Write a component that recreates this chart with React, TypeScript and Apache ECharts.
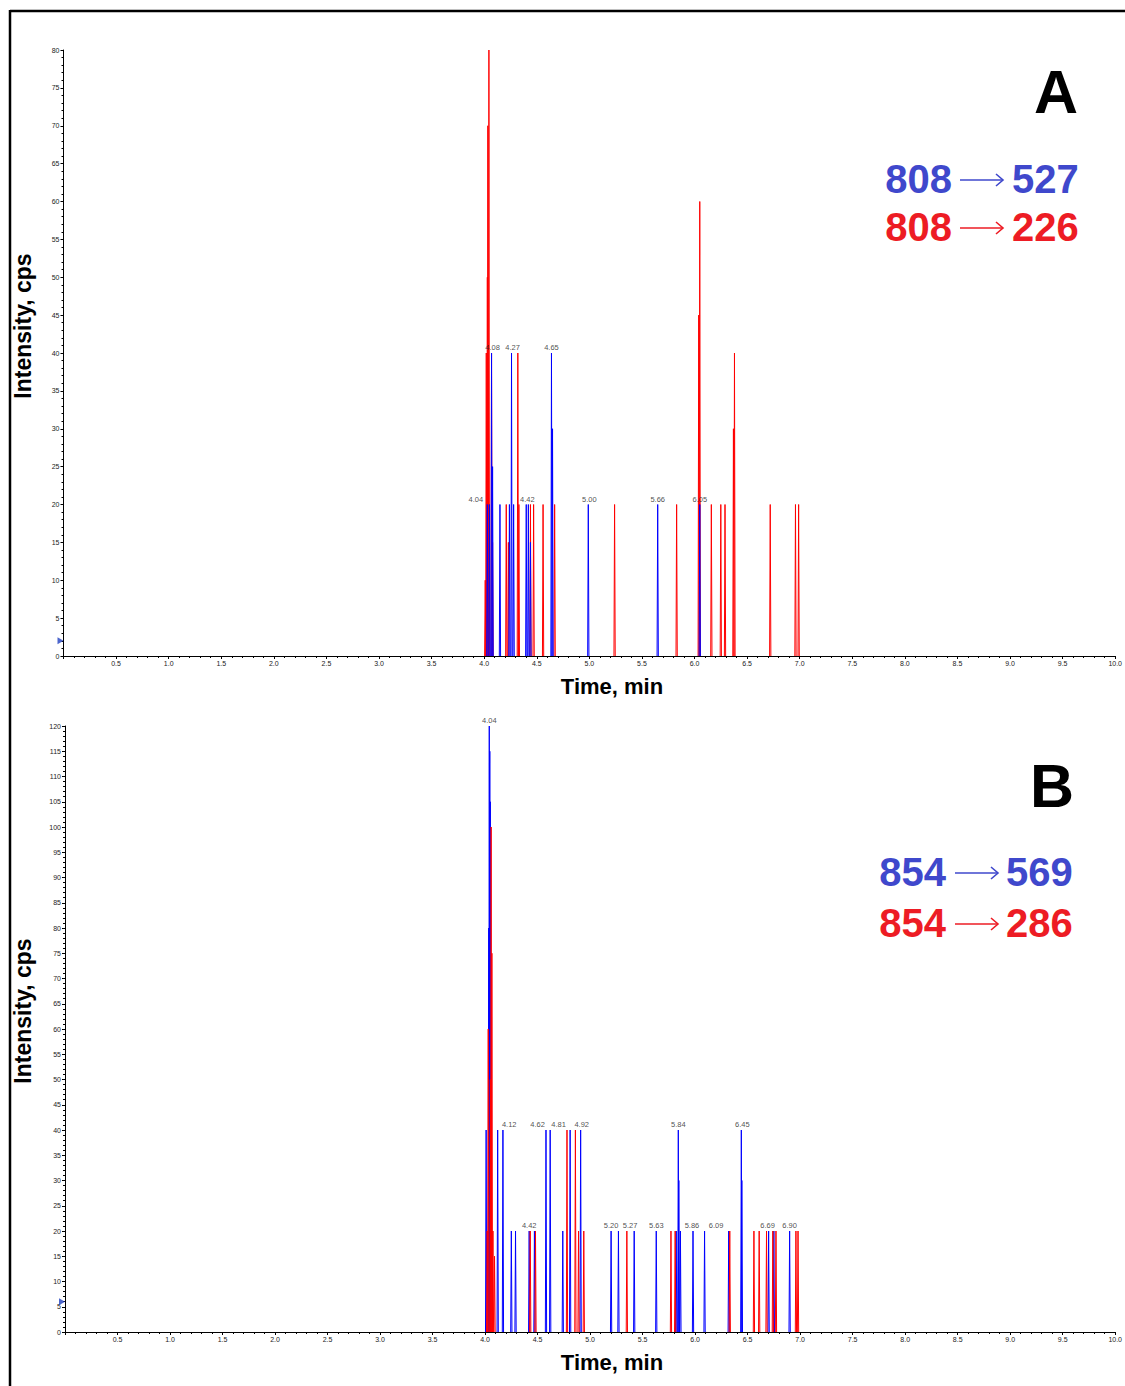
import React, { useEffect, useRef } from "react";
import * as echarts from "echarts";

// ---------- Data (retention time in min, intensity in cps) ----------
// Panel A: 808 -> 527 (blue), 808 -> 226 (red)
const aBlueTimes = [4.03, 4.05, 4.07, 4.08, 4.15, 4.24, 4.26, 4.28, 4.40, 4.42, 4.44, 4.64, 4.65, 4.99, 5.65, 6.05];
const aBlueHeights = [20, 20, 40, 25, 20, 20, 40, 20, 20, 20, 15, 40, 30, 20, 20, 20];
const aRedTimes = [4.01, 4.02, 4.03, 4.035, 4.045, 4.07, 4.08, 4.21, 4.23, 4.32, 4.33, 4.44, 4.47, 4.56, 4.67, 5.24, 5.83, 6.04, 6.05, 6.16, 6.25, 6.29, 6.37, 6.38, 6.72, 6.96, 6.99];
const aRedHeights = [10, 40, 50, 70, 80, 40, 15, 20, 15, 40, 20, 20, 20, 20, 20, 20, 20, 45, 60, 20, 20, 20, 30, 40, 20, 20, 20];
const aLabelTexts = ["4.04", "4.08", "4.27", "4.65", "4.42", "5.00", "5.66", "6.05"];
const aLabelX = [3.92, 4.08, 4.27, 4.64, 4.41, 5.0, 5.65, 6.05];
const aLabelY = [20, 40, 40, 40, 20, 20, 20, 20];

// Panel B: 854 -> 569 (blue), 854 -> 286 (red)
const bBlueTimes = [4.01, 4.035, 4.04, 4.045, 4.05, 4.12, 4.17, 4.25, 4.29, 4.42, 4.47, 4.58, 4.62, 4.74, 4.81, 4.91, 5.20, 5.27, 5.42, 5.63, 5.82, 5.84, 5.845, 5.86, 5.98, 6.09, 6.32, 6.44, 6.445, 6.70, 6.75, 6.90];
const bBlueHeights = [40, 80, 120, 115, 105, 40, 40, 20, 20, 20, 20, 40, 40, 20, 40, 40, 20, 20, 20, 20, 20, 40, 30, 20, 20, 20, 20, 40, 30, 20, 20, 20];
const bRedTimes = [4.02, 4.03, 4.05, 4.058, 4.065, 4.075, 4.09, 4.43, 4.48, 4.78, 4.86, 4.89, 4.94, 5.35, 5.77, 5.81, 6.33, 6.56, 6.61, 6.68, 6.74, 6.77, 6.96, 6.98];
const bRedHeights = [20, 60, 50, 100, 75, 20, 15, 20, 20, 40, 40, 20, 20, 20, 20, 20, 20, 20, 20, 20, 20, 20, 20, 20];
const bLabelTexts = ["4.04", "4.12", "4.62", "4.81", "4.92", "5.84", "6.45", "4.42", "5.20", "5.27", "5.63", "5.86", "6.09", "6.69", "6.90"];
const bLabelX = [4.04, 4.23, 4.5, 4.7, 4.92, 5.84, 6.45, 4.42, 5.2, 5.38, 5.63, 5.97, 6.2, 6.69, 6.9];
const bLabelY = [120, 40, 40, 40, 40, 40, 40, 20, 20, 20, 20, 20, 20, 20, 20];

const xTickMax = 10;
const aYMax = 80;
const bYMax = 120;
const aMarker = [0, 2];
const bMarker = [0, 6];

const BLUE = "#0000ff";
const RED = "#ff0000";
const TXT_BLUE = "#3f48cc";
const TXT_RED = "#ed1c24";
const FONT = "Liberation Sans, Arial, sans-serif";
const HALF = 0.006;

function spikes(ts: number[], hs: number[]) {
  const out: any[] = [];
  ts.forEach((t, i) => {
    out.push([t - HALF, 0], [t, hs[i]], [t + HALF, 0], [t, "-"]);
  });
  return out;
}

function labelData(xs: number[], ys: number[], texts: string[]) {
  return xs.map((x, i) => [x, ys[i], texts[i]]);
}

function xAxisCfg(gridIndex: number) {
  return {
    type: "value",
    gridIndex,
    min: 0,
    max: xTickMax,
    interval: 0.5,
    axisLine: { onZero: false, lineStyle: { color: "#000", width: 1 } },
    axisTick: { show: true, length: 3, lineStyle: { color: "#000" } },
    minorTick: { show: true, splitNumber: 5, length: 2, lineStyle: { color: "#000" } },
    splitLine: { show: false },
    axisLabel: {
      fontSize: 7,
      color: "#222",
      margin: 4,
      fontFamily: FONT,
      formatter: (v: number) => (v === 0 ? "" : v.toFixed(1)),
    },
  };
}

function yAxisCfg(gridIndex: number, max: number) {
  return {
    type: "value",
    gridIndex,
    min: 0,
    max,
    interval: 5,
    axisLine: { show: true, onZero: false, lineStyle: { color: "#000", width: 1 } },
    axisTick: { show: true, length: 3, lineStyle: { color: "#000" } },
    minorTick: { show: true, splitNumber: 5, length: 2, lineStyle: { color: "#000" } },
    splitLine: { show: false },
    axisLabel: { fontSize: 7, color: "#222", margin: 4, fontFamily: FONT },
  };
}

function lineSeries(data: any[], color: string, idx: number) {
  return {
    type: "line",
    xAxisIndex: idx,
    yAxisIndex: idx,
    data,
    showSymbol: false,
    symbol: "none",
    connectNulls: false,
    silent: true,
    lineStyle: { color, width: 1 },
    itemStyle: { color },
    z: 2,
  };
}

function labelSeries(data: any[], idx: number) {
  return {
    type: "scatter",
    xAxisIndex: idx,
    yAxisIndex: idx,
    data,
    symbolSize: 1,
    itemStyle: { color: "transparent" },
    silent: true,
    z: 3,
    label: {
      show: true,
      position: "top",
      distance: 1,
      fontSize: 7.5,
      color: "#222",
      fontFamily: FONT,
      formatter: (p: any) => p.value[2],
    },
  };
}

function markerSeries(pt: number[], idx: number) {
  return {
    type: "scatter",
    xAxisIndex: idx,
    yAxisIndex: idx,
    data: [pt],
    symbol: "triangle",
    symbolRotate: -90,
    symbolSize: [7, 6],
    symbolOffset: [-3, 0],
    itemStyle: { color: "#1f3fbf" },
    silent: true,
    z: 4,
  };
}

function transition(
  yTop: number, yBot: number,
  from: string, toTop: string, toBot: string,
  gapLeft: number, arrowStart: number, arrowEnd: number, rightStart: number
) {
  const els: any[] = [];
  const rows = [
    { y: yTop, color: TXT_BLUE, to: toTop },
    { y: yBot, color: TXT_RED, to: toBot },
  ];
  rows.forEach((r) => {
    els.push({
      type: "text",
      style: { text: from, x: gapLeft, y: r.y, align: "right", verticalAlign: "middle", font: `bold 40px ${FONT}`, fill: r.color },
    });
    els.push({
      type: "line",
      shape: { x1: arrowStart, y1: r.y + 1, x2: arrowEnd, y2: r.y + 1 },
      style: { stroke: r.color, lineWidth: 1.6 },
    });
    els.push({
      type: "polyline",
      shape: { points: [[arrowEnd - 7, r.y - 5], [arrowEnd, r.y + 1], [arrowEnd - 7, r.y + 7]] },
      style: { stroke: r.color, lineWidth: 1.6, fill: null },
    });
    els.push({
      type: "text",
      style: { text: r.to, x: rightStart, y: r.y, align: "left", verticalAlign: "middle", font: `bold 40px ${FONT}`, fill: r.color },
    });
  });
  return els;
}

export default function App() {
  const ref = useRef<HTMLDivElement>(null);
  useEffect(() => {
    if (!ref.current) return;
    const chart = echarts.init(ref.current, null, { renderer: "svg" });
    const option: any = {
      animation: false,
      backgroundColor: "#ffffff",
      grid: [
        { left: 63.5, top: 50, width: 1055.5, height: 606 },
        { left: 65, top: 726, width: 1055, height: 606 },
      ],
      xAxis: [xAxisCfg(0), xAxisCfg(1)],
      yAxis: [yAxisCfg(0, aYMax), yAxisCfg(1, bYMax)],
      series: [
        lineSeries(spikes(aRedTimes, aRedHeights), RED, 0),
        lineSeries(spikes(aBlueTimes, aBlueHeights), BLUE, 0),
        lineSeries(spikes(bBlueTimes, bBlueHeights), BLUE, 1),
        lineSeries(spikes(bRedTimes, bRedHeights), RED, 1),
        labelSeries(labelData(aLabelX, aLabelY, aLabelTexts), 0),
        labelSeries(labelData(bLabelX, bLabelY, bLabelTexts), 1),
        markerSeries(aMarker, 0),
        markerSeries(bMarker, 1),
      ],
      graphic: [
        // frame
        { type: "line", shape: { x1: 10, y1: 11, x2: 1125, y2: 11 }, style: { stroke: "#000", lineWidth: 2.5 } },
        { type: "line", shape: { x1: 10, y1: 10, x2: 10, y2: 1386 }, style: { stroke: "#000", lineWidth: 2.5 } },
        // axis titles
        { type: "text", rotation: Math.PI / 2, x: 23, y: 326, style: { text: "Intensity, cps", align: "center", verticalAlign: "middle", font: `bold 23px ${FONT}`, fill: "#000" } },
        { type: "text", rotation: Math.PI / 2, x: 23, y: 1011, style: { text: "Intensity, cps", align: "center", verticalAlign: "middle", font: `bold 23px ${FONT}`, fill: "#000" } },
        { type: "text", style: { text: "Time, min", x: 612, y: 686, align: "center", verticalAlign: "middle", font: `bold 22px ${FONT}`, fill: "#000" } },
        { type: "text", style: { text: "Time, min", x: 612, y: 1362, align: "center", verticalAlign: "middle", font: `bold 22px ${FONT}`, fill: "#000" } },
        // panel letters
        { type: "text", style: { text: "A", x: 1056, y: 92, align: "center", verticalAlign: "middle", font: `bold 61px ${FONT}`, fill: "#000" } },
        { type: "text", style: { text: "B", x: 1052, y: 786, align: "center", verticalAlign: "middle", font: `bold 61px ${FONT}`, fill: "#000" } },
        ...transition(179, 227, "808", "527", "226", 952, 960, 1003, 1012),
        ...transition(872, 923, "854", "569", "286", 946, 955, 998, 1006),
      ],
    };
    chart.setOption(option);
    return () => chart.dispose();
  }, []);
  return (
    <div
      ref={ref}
      style={{ position: "absolute", left: 0, top: 0, width: 1125, height: 1386, background: "#fff" }}
    />
  );
}
